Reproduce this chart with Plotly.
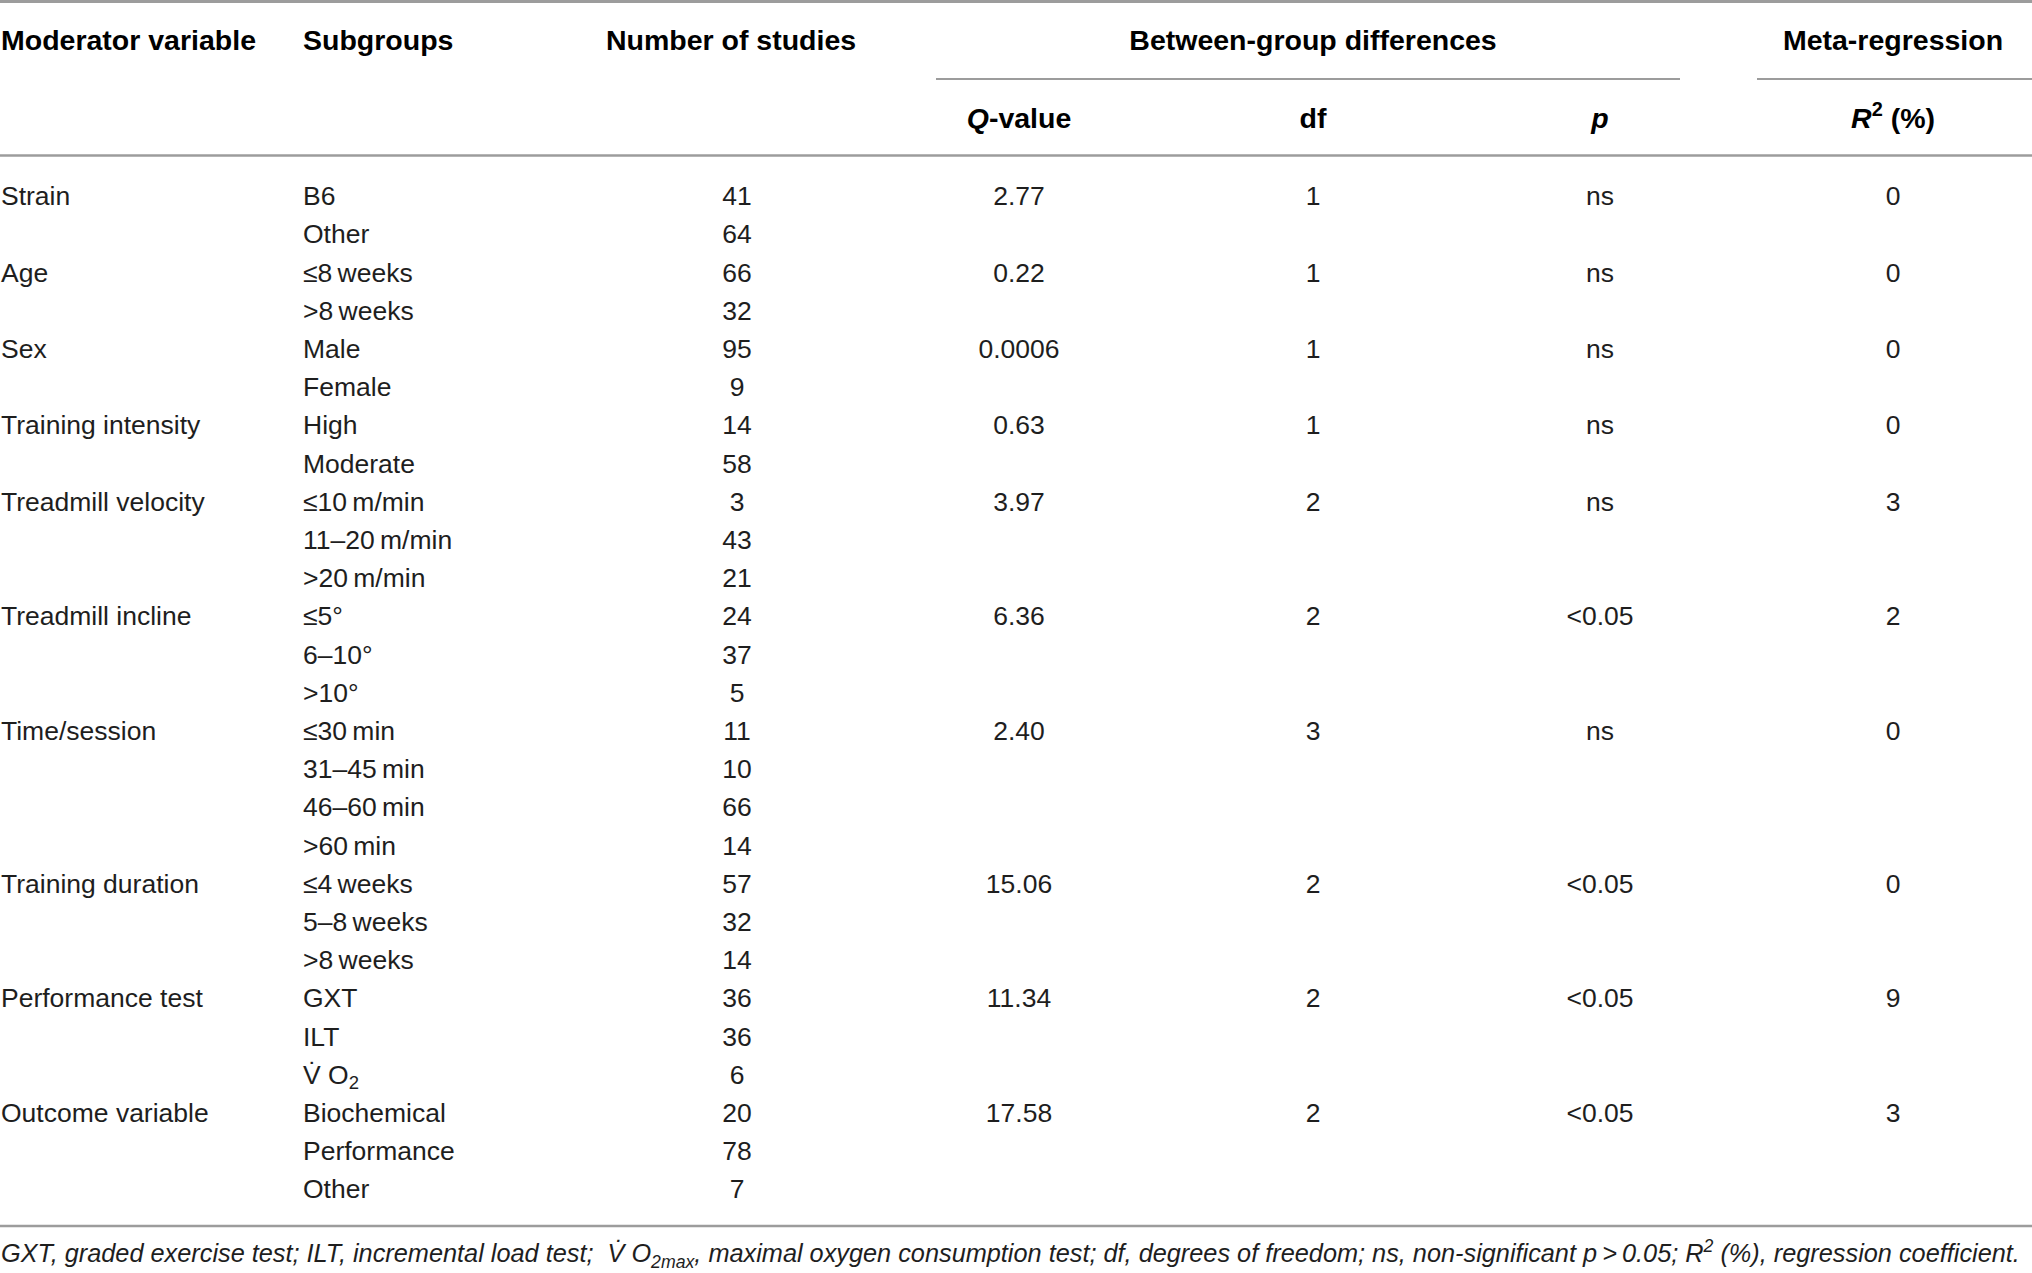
import plotly.graph_objects as go

# === Datos de la tabla ===
moderators = ["Strain", "Age", "Sex", "Training intensity", "Treadmill velocity",
              "Treadmill incline", "Time/session", "Training duration",
              "Performance test", "Outcome variable"]

subgroups = [
    ["B6", "Other"],
    ["≤8\u2009weeks", ">8\u2009weeks"],
    ["Male", "Female"],
    ["High", "Moderate"],
    ["≤10\u2009m/min", "11–20\u2009m/min", ">20\u2009m/min"],
    ["≤5°", "6–10°", ">10°"],
    ["≤30\u2009min", "31–45\u2009min", "46–60\u2009min", ">60\u2009min"],
    ["≤4\u2009weeks", "5–8\u2009weeks", ">8\u2009weeks"],
    ["GXT", "ILT", "V\u0307 O<sub>2</sub>"],
    ["Biochemical", "Performance", "Other"],
]

n_studies = [
    [41, 64], [66, 32], [95, 9], [14, 58], [3, 43, 21],
    [24, 37, 5], [11, 10, 66, 14], [57, 32, 14], [36, 36, 6], [20, 78, 7],
]

q_values = ["2.77", "0.22", "0.0006", "0.63", "3.97", "6.36", "2.40", "15.06", "11.34", "17.58"]
df_values = ["1", "1", "1", "1", "2", "2", "3", "2", "2", "2"]
p_values = ["ns", "ns", "ns", "ns", "ns", "<0.05", "ns", "<0.05", "<0.05", "<0.05"]
r2_values = ["0", "0", "0", "0", "3", "2", "0", "0", "9", "3"]

header_top = ["Moderator variable", "Subgroups", "Number of studies",
              "Between-group differences", "Meta-regression"]
header_sub = ["<i>Q</i>-value", "df", "<i>p</i>", "<i>R</i><sup>2</sup> (%)"]

footnote = ("GXT, graded exercise test; ILT, incremental load test;  V\u0307 O<sub>2max</sub>, "
            "maximal oxygen consumption test; df, degrees of freedom; ns, non-significant "
            "p\u2009>\u20090.05; R<sup>2</sup> (%), regression coefficient.")

# === Geometría ===
W, H = 2032, 1273
ROW0, STEP = 198.5, 38.2
X_MOD, X_SUB, X_N = 1, 303, 737
X_Q, X_DF, X_P, X_R2 = 1019, 1313, 1600, 1893
TXT = "#1e1e1e"
RULE = "#9c9c9c"
FONT = "Liberation Sans, Arial, sans-serif"

# filas
mod_y, sub_y, sub_txt, n_txt = [], [], [], []
row = 0
for mod, subs, ns in zip(moderators, subgroups, n_studies):
    mod_y.append(ROW0 + row * STEP)
    for s, n in zip(subs, ns):
        sub_y.append(ROW0 + row * STEP)
        sub_txt.append(s)
        n_txt.append(str(n))
        row += 1
n_rows = row

fig = go.Figure()

body_font = dict(family=FONT, size=26.5, color=TXT)
head_font = dict(family=FONT, size=28.5, color="#000000")


def add_text(x, y, text, pos, font):
    fig.add_trace(go.Scatter(
        x=x, y=y, text=text, mode="text", textposition=pos,
        textfont=font, hoverinfo="skip", cliponaxis=False, showlegend=False
    ))


# cuerpo
add_text([X_MOD] * len(mod_y), mod_y, moderators, "middle right", body_font)
add_text([X_SUB] * len(sub_y), sub_y, sub_txt, "middle right", body_font)
add_text([X_N] * len(sub_y), sub_y, n_txt, "middle center", body_font)
add_text([X_Q] * len(mod_y), mod_y, q_values, "middle center", body_font)
add_text([X_DF] * len(mod_y), mod_y, df_values, "middle center", body_font)
add_text([X_P] * len(mod_y), mod_y, p_values, "middle center", body_font)
add_text([X_R2] * len(mod_y), mod_y, r2_values, "middle center", body_font)

# encabezados
Y_H1, Y_H2 = 42.5, 120.5
add_text([X_MOD, X_SUB], [Y_H1, Y_H1],
         ["<b>%s</b>" % t for t in header_top[:2]], "middle right", head_font)
add_text([731, X_DF, X_R2], [Y_H1] * 3,
         ["<b>%s</b>" % t for t in header_top[2:]], "middle center", head_font)
add_text([X_Q, X_DF, X_P, X_R2], [Y_H2] * 4,
         ["<b>%s</b>" % t for t in header_sub], "middle center", head_font)

# nota al pie
Y_FOOT = 1256
add_text([X_MOD], [Y_FOOT], ["<i>%s</i>" % footnote], "middle right",
         dict(family=FONT, size=25.3, color=TXT))

# === Líneas horizontales ===
Y_BOTTOM = 1226
rules = [
    (0, W, 1.5, 3),
    (936, 1680, 79, 2),
    (1757, W, 79, 2),
    (0, W, 155.5, 2.5),
    (0, W, Y_BOTTOM, 2.5),
]
for x0, x1, y, w in rules:
    fig.add_shape(type="line", x0=x0, x1=x1, y0=y, y1=y, xref="x", yref="y",
                  line=dict(color=RULE, width=w))

fig.update_layout(
    width=W, height=H,
    margin=dict(l=0, r=0, t=0, b=0),
    paper_bgcolor="white", plot_bgcolor="white",
    xaxis=dict(range=[0, W], visible=False, fixedrange=True),
    yaxis=dict(range=[H, 0], visible=False, fixedrange=True),
    showlegend=False,
)

# quitar el margen por defecto del body para que la tabla quede a ras
fig.write_html("out.html", config={"displayModeBar": False},
               post_script="document.body.style.margin='0';"
                           "document.body.style.overflow='hidden';")
